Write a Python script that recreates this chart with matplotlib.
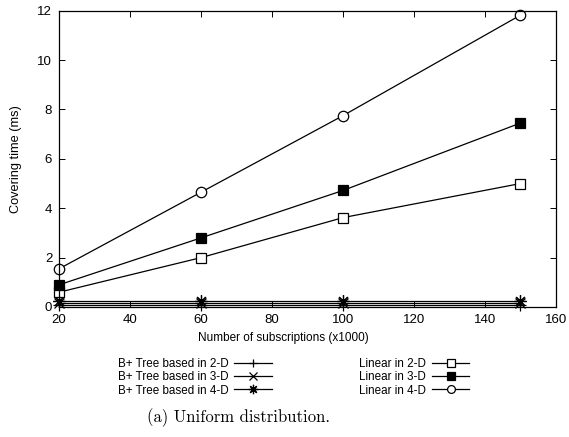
import matplotlib
matplotlib.use("Agg")
import matplotlib.pyplot as plt

plt.rcParams["font.family"] = ["Liberation Sans", "DejaVu Sans"]

subscriptions = [20, 60, 100, 150]

btree_2d = [0.08, 0.08, 0.08, 0.08]
btree_3d = [0.17, 0.17, 0.17, 0.17]
btree_4d = [0.25, 0.25, 0.25, 0.25]
linear_2d = [0.6, 2.0, 3.62, 5.0]
linear_3d = [0.9, 2.8, 4.72, 7.45]
linear_4d = [1.55, 4.65, 7.75, 11.82]

series_labels = [
    "B+ Tree based in 2-D", "B+ Tree based in 3-D", "B+ Tree based in 4-D",
    "Linear in 2-D", "Linear in 3-D", "Linear in 4-D",
]

xticks = [20, 40, 60, 80, 100, 120, 140, 160]
yticks = [0, 2, 4, 6, 8, 10, 12]

fig = plt.figure(figsize=(5.69, 4.37), dpi=100)
ax = fig.add_axes([0.104, 0.2975, 0.873, 0.678])

styles = [
    dict(marker="+", ms=8, mew=0.9),
    dict(marker="x", ms=7, mew=0.9),
    dict(marker=(8, 2, 0), ms=9, mew=0.9),
    dict(marker="s", ms=7, mfc="white", mew=0.9),
    dict(marker="s", ms=7.5, mfc="black", mew=0.9),
    dict(marker="o", ms=7.5, mfc="white", mew=0.9),
]
data = [btree_2d, btree_3d, btree_4d, linear_2d, linear_3d, linear_4d]

handles = []
for values, label, st in zip(data, series_labels, styles):
    h, = ax.plot(subscriptions, values, color="black", lw=0.9, mec="black",
                 label=label, clip_on=False, **st)
    handles.append(h)

ax.set_xlim(20, 160)
ax.set_ylim(0, 12)
ax.set_xticks(xticks)
ax.set_yticks(yticks)
ax.tick_params(direction="in", length=4, width=0.7, top=True, right=True,
               labelsize=9.5, pad=5)
for sp in ax.spines.values():
    sp.set_linewidth(0.9)

ax.set_xlabel("Number of subscriptions (x1000)", fontsize=8.5)
ax.xaxis.set_label_coords(0.452, -0.085)
ax.set_ylabel("Covering time (ms)", fontsize=9.2, labelpad=11)

fig.legend(handles=handles, loc="center", bbox_to_anchor=(0.516, 0.137), ncol=2,
           frameon=False, markerfirst=False, fontsize=8.4, handlelength=3.2,
           columnspacing=7.5, labelspacing=0.12, handletextpad=0.5,
           borderpad=0, markerscale=0.75)

fig.text(0.42, 0.045, "(a) Uniform distribution.", family="cmr10",
         fontsize=12, ha="center", va="center")

fig.savefig("out.png", dpi=100)
